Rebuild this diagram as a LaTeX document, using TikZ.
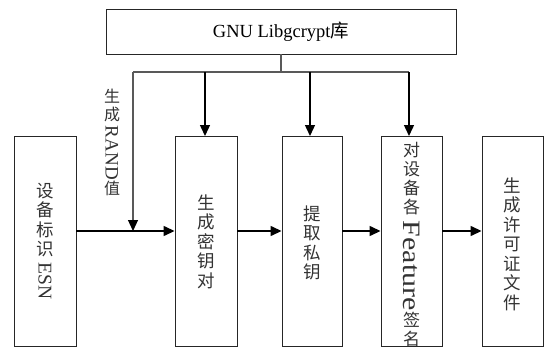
\documentclass[tikz,border=0pt]{standalone}
\usepackage{fontspec}
\setmainfont{Liberation Serif}
\newfontfamily\cjk{Noto Sans CJK SC}
\usetikzlibrary{arrows.meta}
\newcommand{\rot}[2][15pt]{\raisebox{#1}{\rotatebox{-90}{\rmfamily #2}}}
\begin{document}
\begin{tikzpicture}[x=1pt,y=-1pt,
  box/.style={draw=black!85,line width=0.9pt,inner sep=0pt},
  vtext/.style={align=center,font=\cjk\fontsize{17.5}{19.5}\selectfont,text=black!80},
  arr/.style={line width=1.4pt,-{Triangle[length=11pt,width=10pt]}},
  thin/.style={line width=1.1pt,draw=black!65}]
\useasboundingbox (0,0) rectangle (546,348);
% top box
\node[box,minimum width=350pt,minimum height=45pt,font=\fontsize{18.5}{20}\selectfont] (lib) at (281,31.5) {GNU Libgcrypt{\cjk 库}};
% main boxes
\node[box,minimum width=62pt,minimum height=210pt] (b1) at (45,241) {};
\node[box,minimum width=62pt,minimum height=210pt] (b2) at (206,241) {};
\node[box,minimum width=60pt,minimum height=210pt] (b3) at (312,241) {};
\node[box,minimum width=61pt,minimum height=210pt] (b4) at (411.5,241) {};
\node[box,minimum width=61pt,minimum height=210pt] (b5) at (512.5,241) {};
% texts
\node[vtext] (t1) at (45,241) {设\\备\\标\\识\\\rot[13pt]{\fontsize{19.5}{20}\selectfont ESN}};
\node[vtext] (t2) at (206,241.5) {生\\成\\密\\钥\\对};
\node[vtext] (t3) at (312,243) {提\\取\\私\\钥};
\node[vtext,font=\cjk\fontsize{17}{19}\selectfont] (t4) at (411.5,244.5) {对\\设\\备\\各\\\rot[12pt]{\scalebox{1.2}[1]{\fontsize{25}{25}\selectfont Feature}}\\签\\名};
\node[vtext] (t5) at (512.5,244) {生\\成\\许\\可\\证\\文\\件};
\node[vtext,font=\cjk\fontsize{16}{17.5}\selectfont] (tr) at (112,142.5) {生\\成\\\rot[12pt]{\fontsize{19}{20}\selectfont RAND}\\值};
% bus
\coordinate (bt) at (281,72);
\coordinate (bl) at (133,72);
\coordinate (br) at (409,72);
\coordinate (j) at (133,231);
\draw[thin] (lib.south) -- (bt);
\draw[thin] (bl) -- (br);
\draw[arr] (205,72) -- (205,136);
\draw[arr] (310,72) -- (310,136);
\draw[arr] (br) -- (409,136);
\draw[thin,-{Triangle[length=11pt,width=10pt,color=black]}] (bl) -- (j);
% horizontal arrows
\draw[arr] (b1.east|-j) -- (b2.west|-j);
\draw[arr] (b2.east|-j) -- (b3.west|-j);
\draw[arr] (b3.east|-j) -- (b4.west|-j);
\draw[arr] (b4.east|-j) -- (b5.west|-j);
\end{tikzpicture}
\end{document}
